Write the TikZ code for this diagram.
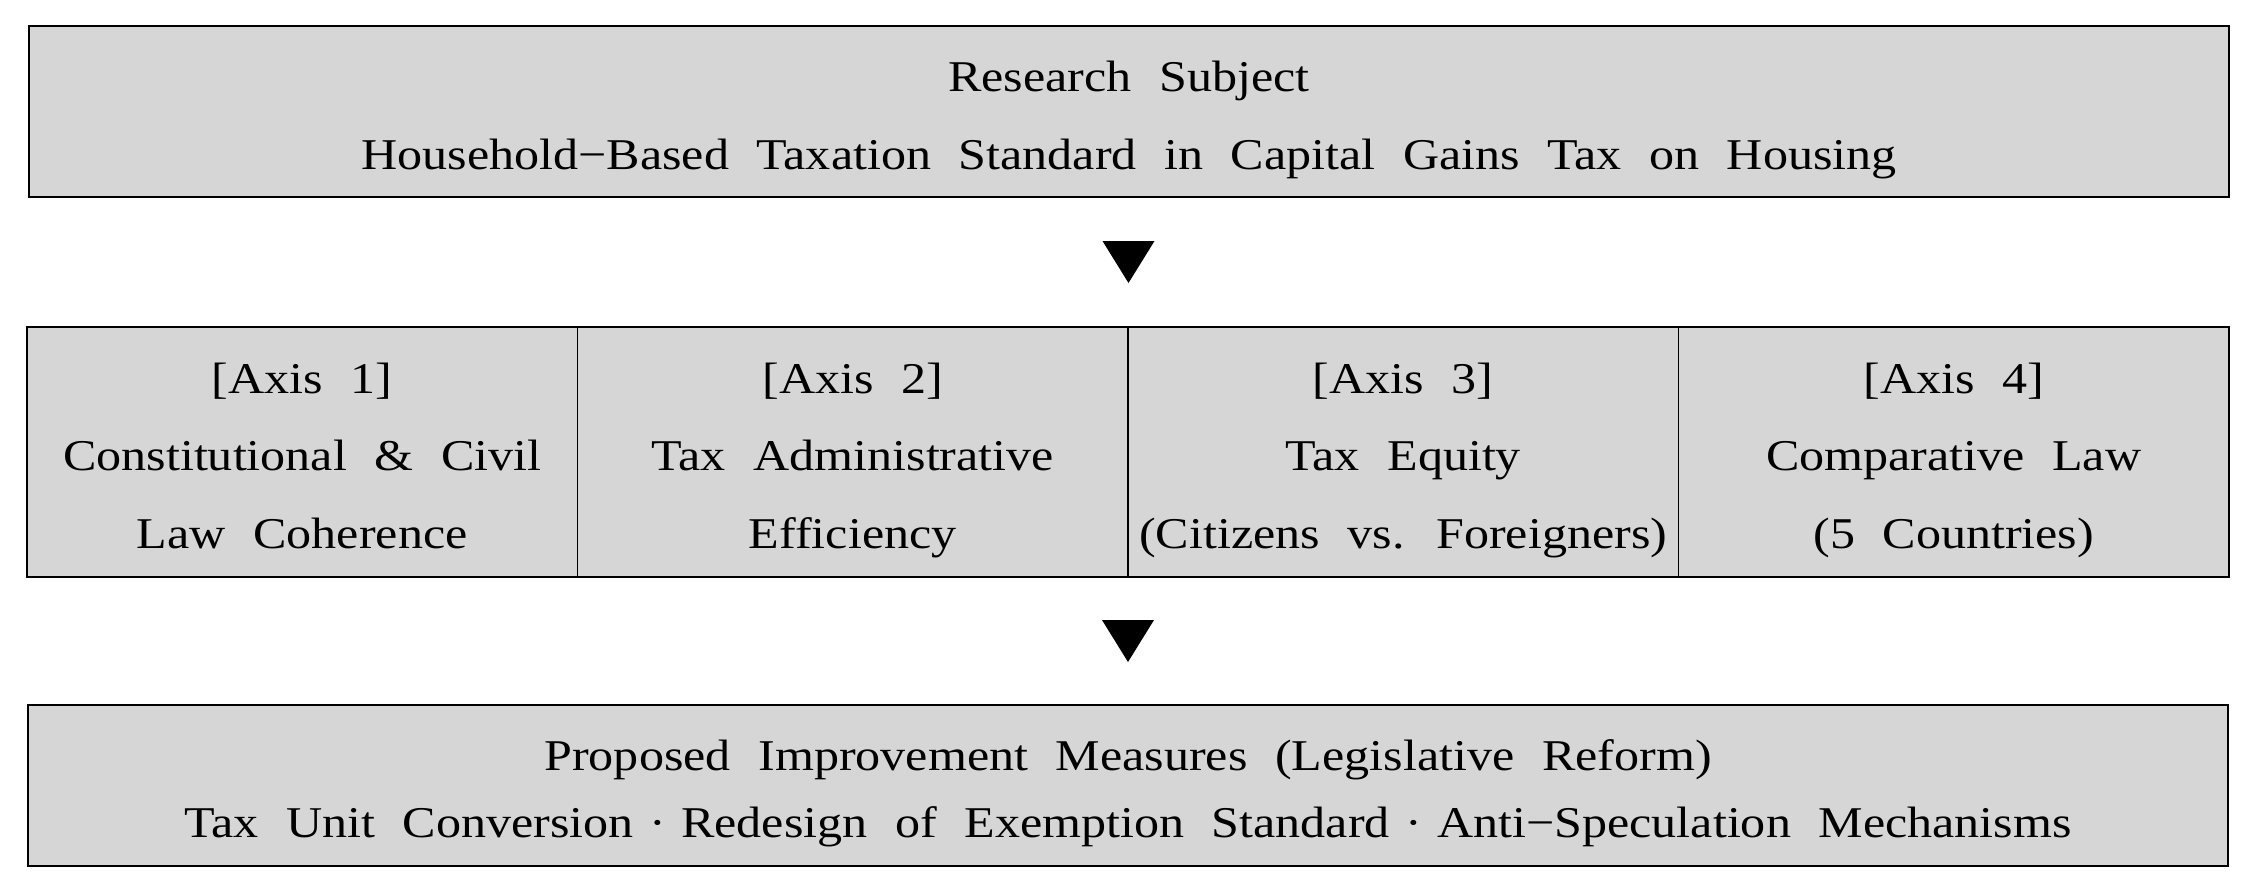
\documentclass[tikz,border=0pt]{standalone}
\usepackage{fontspec}
\setmainfont{Liberation Serif}[FakeStretch=1.14, WordSpace=2.2]
\usetikzlibrary{positioning, calc}
\definecolor{boxgray}{RGB}{214,214,214}
\def\cellw{5.505cm}
\def\ls{\rule[-4.1pt]{0pt}{18.9pt}}
\def\dotsep{\hspace{0.35em}·\hspace{0.35em}}
\def\downtri#1{\fill ($(#1)+(-0.26,0.21)$) -- ($(#1)+(0.26,0.21)$) -- ($(#1)+(0,-0.21)$) -- cycle;}

\begin{document}
\begin{tikzpicture}[font=\fontsize{12.5}{22.1}\selectfont, node distance=0pt]
    \tikzstyle{box}=[rectangle, fill=boxgray, draw=black, line width=0.8pt, align=center, inner sep=0pt, outer sep=0pt]
    \tikzstyle{wide box}=[box, minimum width=22cm]
    \tikzstyle{cell}=[box, line width=0.5pt, minimum width=\cellw, minimum height=2.5cm]
    \useasboundingbox (0,0) rectangle (22.56,-8.94);

    % Draw the research subject
    \node[wide box, minimum height=1.71cm] (subj) at (11.29,-1.115)
        {\ls Research Subject\\\ls Household−Based Taxation Standard in Capital Gains Tax on Housing};

    % Draw the four axes
    \node[cell] (ax1) at (3.0225,-4.52) {\ls[Axis 1]\\\ls Constitutional \& Civil\\\ls Law Coherence};
    \node[cell, right=of ax1] (ax2) {\ls[Axis 2]\\\ls Tax Administrative\\\ls Efficiency};
    \node[cell, right=of ax2] (ax3) {\ls[Axis 3]\\\ls Tax Equity\\\ls(Citizens vs. Foreigners)};
    \node[cell, right=of ax3] (ax4) {\ls[Axis 4]\\\ls Comparative Law\\\ls(5 Countries)};
    \draw[line width=0.8pt] (ax1.north west) rectangle (ax4.south east);

    % Draw the proposals
    \node[wide box, minimum height=1.61cm, font=\fontsize{12.5}{19}\selectfont] (prop) at (11.28,-7.855)
        {\ls Proposed Improvement Measures (Legislative Reform)\\\ls Tax Unit Conversion\dotsep Redesign of Exemption Standard\dotsep Anti−Speculation Mechanisms};

    % Triangles between the rows
    \coordinate (tri1) at ($(subj.south)!0.5!(ax2.north east)$);
    \coordinate (tri2) at ($(ax2.south east)!0.5!(prop.north)$);
    \downtri{tri1}
    \downtri{tri2}
\end{tikzpicture}
\end{document}
